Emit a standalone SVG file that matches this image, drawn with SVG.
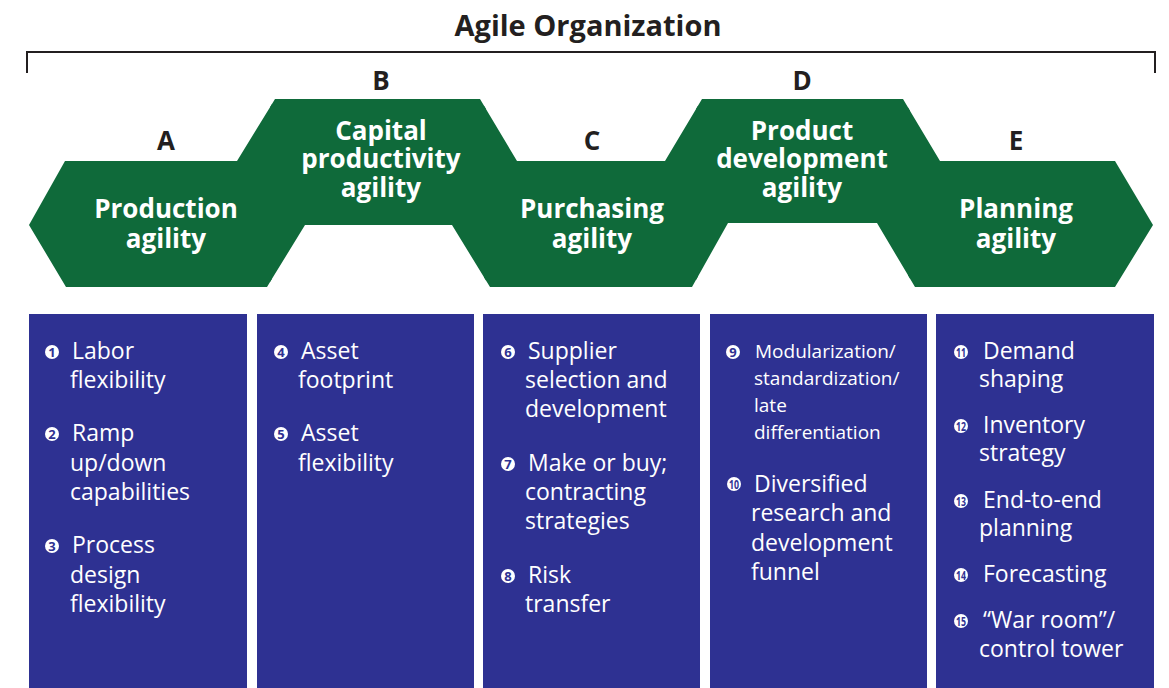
<svg xmlns="http://www.w3.org/2000/svg" width="1169" height="688" viewBox="0 0 1169 688">
<style>
.title{font-family:"Open Sans","Liberation Sans",sans-serif;font-weight:700;font-size:29px;fill:#231f20;text-anchor:middle}
.letter{font-family:"Open Sans","Liberation Sans",sans-serif;font-weight:700;font-size:26px;fill:#231f20;text-anchor:middle}
.hex{fill:#0f6a3a}
.hl{font-family:"Open Sans","Liberation Sans",sans-serif;font-weight:700;font-size:26px;fill:#ffffff;text-anchor:middle}
.box{fill:#2e3192}
.it{font-family:"Open Sans","Liberation Sans",sans-serif;font-size:23px;fill:#ffffff}
.its{font-family:"Open Sans","Liberation Sans",sans-serif;font-size:19px;fill:#ffffff}
.nc{fill:#ffffff}
.nt{font-family:"Open Sans","Liberation Sans",sans-serif;font-weight:700;font-size:13px;fill:#2e3192;text-anchor:middle}
.bracket{fill:none;stroke:#231f20;stroke-width:2}
</style>
<text class="title" x="588" y="36">Agile Organization</text>
<g id="connectors">
<path class="bracket" d="M27,73 V52 H1155 V73"/>
</g>
<g id="nodeA">
<polygon class="hex" points="29,225 65,161 237,161 272,103.9 272,278.8 267,287 66,287"/>
<text class="letter" x="166" y="150">A</text>
<text class="hl" x="166" y="218">Production</text>
<text class="hl" x="166" y="248">agility</text>
</g>
<g id="nodeB">
<polygon class="hex" points="270,107.2 275,99 480,99 486,109.1 486,280.5 452,225 305,225 270,282.1"/>
<text class="letter" x="381" y="90">B</text>
<text class="hl" x="381" y="140">Capital</text>
<text class="hl" x="381" y="168">productivity</text>
<text class="hl" x="381" y="197">agility</text>
</g>
<g id="nodeC">
<polygon class="hex" points="484,105.7 517,161 665,161 698,105.7 698,276.3 692,287 490,287 484,277.2"/>
<text class="letter" x="592" y="150">C</text>
<text class="hl" x="592" y="218">Purchasing</text>
<text class="hl" x="592" y="248">agility</text>
</g>
<g id="nodeD">
<polygon class="hex" points="696,109.1 702,99 903,99 910,110.7 910,278.6 877,223 728,223 696,279.9"/>
<text class="letter" x="802" y="90">D</text>
<text class="hl" x="802" y="140">Product</text>
<text class="hl" x="802" y="168">development</text>
<text class="hl" x="802" y="197">agility</text>
</g>
<g id="nodeE">
<polygon class="hex" points="908,107.4 940,161 1115,161 1153,225 1115,287 915,287 908,275.2"/>
<text class="letter" x="1016" y="150">E</text>
<text class="hl" x="1016" y="218">Planning</text>
<text class="hl" x="1016" y="248">agility</text>
</g>
<g id="listA">
<rect class="box" x="29" y="314" width="218" height="374"/>
<circle class="nc" cx="52" cy="352" r="7"/><text class="nt" x="52" y="356.5">1</text>
<text class="it" x="72" y="359">Labor</text>
<text class="it" x="70" y="388">flexibility</text>
<circle class="nc" cx="52" cy="434" r="7"/><text class="nt" x="52" y="438.5">2</text>
<text class="it" x="72" y="441">Ramp</text>
<text class="it" x="70" y="471">up/down</text>
<text class="it" x="70" y="500">capabilities</text>
<circle class="nc" cx="52" cy="546" r="7"/><text class="nt" x="52" y="550.5">3</text>
<text class="it" x="72" y="553">Process</text>
<text class="it" x="70" y="583">design</text>
<text class="it" x="70" y="612">flexibility</text>
</g>
<g id="listB">
<rect class="box" x="257" y="314" width="217" height="374"/>
<circle class="nc" cx="281" cy="352" r="7"/><text class="nt" x="281" y="356.5">4</text>
<text class="it" x="301" y="359">Asset</text>
<text class="it" x="298" y="388">footprint</text>
<circle class="nc" cx="281" cy="434" r="7"/><text class="nt" x="281" y="438.5">5</text>
<text class="it" x="301" y="441">Asset</text>
<text class="it" x="298" y="471">flexibility</text>
</g>
<g id="listC">
<rect class="box" x="483" y="314" width="217" height="374"/>
<circle class="nc" cx="508" cy="352" r="7"/><text class="nt" x="508" y="356.5">6</text>
<text class="it" x="528" y="359">Supplier</text>
<text class="it" x="525" y="388">selection and</text>
<text class="it" x="525" y="417">development</text>
<circle class="nc" cx="508" cy="464" r="7"/><text class="nt" x="508" y="468.5">7</text>
<text class="it" x="528" y="471">Make or buy;</text>
<text class="it" x="525" y="500">contracting</text>
<text class="it" x="525" y="529">strategies</text>
<circle class="nc" cx="508" cy="576" r="7"/><text class="nt" x="508" y="580.5">8</text>
<text class="it" x="528" y="583">Risk</text>
<text class="it" x="525" y="612">transfer</text>
</g>
<g id="listD">
<rect class="box" x="710" y="314" width="217" height="374"/>
<circle class="nc" cx="733" cy="352" r="7"/><text class="nt" x="733" y="356.5">9</text>
<text class="its" x="755" y="358">Modularization/</text>
<text class="its" x="754" y="385">standardization/</text>
<text class="its" x="754" y="412">late</text>
<text class="its" x="754" y="439">differentiation</text>
<circle class="nc" cx="734" cy="484" r="7"/><text class="nt" x="734" y="488.5" textLength="10" lengthAdjust="spacingAndGlyphs">10</text>
<text class="it" x="754" y="492">Diversified</text>
<text class="it" x="751" y="521">research and</text>
<text class="it" x="751" y="551">development</text>
<text class="it" x="751" y="580">funnel</text>
</g>
<g id="listE">
<rect class="box" x="936" y="314" width="218" height="374"/>
<circle class="nc" cx="961" cy="352" r="7"/><text class="nt" x="961" y="356.5" textLength="10" lengthAdjust="spacingAndGlyphs">11</text>
<text class="it" x="983" y="359">Demand</text>
<text class="it" x="979" y="387">shaping</text>
<circle class="nc" cx="961" cy="426" r="7"/><text class="nt" x="961" y="430.5" textLength="10" lengthAdjust="spacingAndGlyphs">12</text>
<text class="it" x="983" y="433">Inventory</text>
<text class="it" x="979" y="461">strategy</text>
<circle class="nc" cx="961" cy="501" r="7"/><text class="nt" x="961" y="505.5" textLength="10" lengthAdjust="spacingAndGlyphs">13</text>
<text class="it" x="983" y="508">End-to-end</text>
<text class="it" x="979" y="536">planning</text>
<circle class="nc" cx="961" cy="575" r="7"/><text class="nt" x="961" y="579.5" textLength="10" lengthAdjust="spacingAndGlyphs">14</text>
<text class="it" x="983" y="582">Forecasting</text>
<circle class="nc" cx="961" cy="621" r="7"/><text class="nt" x="961" y="625.5" textLength="10" lengthAdjust="spacingAndGlyphs">15</text>
<text class="it" x="983" y="628">“War room”/</text>
<text class="it" x="979" y="657">control tower</text>
</g>
</svg>
